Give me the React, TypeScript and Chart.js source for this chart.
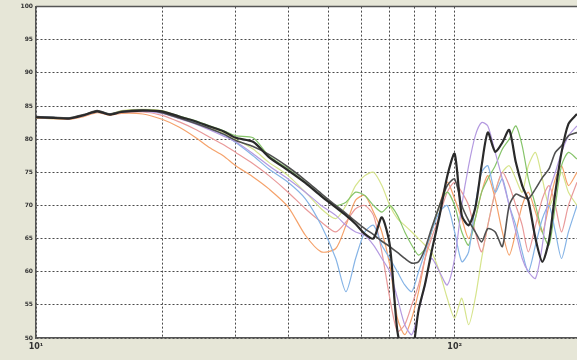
import React, { useEffect, useRef } from 'react';
import { Chart, registerables } from 'chart.js';

Chart.register(...registerables);

const freqs = [10, 11, 12, 13, 14, 15, 16, 18, 20, 22, 24, 26, 28, 30, 33, 36, 40, 44, 48, 52, 55, 58, 61, 64, 67, 70, 73, 76, 79, 82, 85, 88, 92, 96, 100, 104, 108, 112, 116, 120, 125, 130, 135, 140, 145, 150, 156, 162, 168, 174, 180, 187, 196];

const gridFreqs = [10, 20, 30, 40, 50, 60, 70, 80, 90, 100];
const xTickLabels: Record<number, string> = { 10: '10\u00b9', 100: '10\u00b2' };

const seriesBlack = [83.3, 83.2, 83.1, 83.6, 84.2, 83.7, 84.1, 84.3, 84.2, 83.4, 82.7, 81.9, 81.2, 80.2, 79.6, 77.3, 75.3, 73.4, 71.4, 69.7, 68.5, 67.2, 65.7, 65.0, 68.2, 64.0, 51.0, 47.0, 47.5, 54.2, 58.2, 62.9, 68.4, 74.4, 77.8, 68.5, 67.0, 69.6, 76.0, 81.0, 78.1, 79.5, 81.4, 76.5, 73.0, 70.7, 65.0, 61.5, 64.7, 72.0, 78.0, 82.3, 83.8];
const seriesGray = [83.4, 83.3, 83.2, 83.7, 84.3, 83.8, 84.2, 84.4, 84.0, 83.2, 82.4, 81.6, 80.8, 79.8, 78.9, 77.7, 75.8, 73.8, 71.8, 70.0, 68.8, 67.6, 66.5, 65.6, 64.6, 63.8, 62.9, 62.0, 61.3, 61.5, 63.5, 66.5, 70.0, 73.0, 74.0, 70.0, 67.7, 66.0, 64.5, 66.5, 66.0, 63.8, 70.0, 71.7, 71.3, 71.0, 72.5, 74.2, 75.5, 78.0, 79.0, 80.5, 81.0];
const seriesOrange = [83.2, 83.1, 83.0, 83.4, 84.0, 83.6, 83.9, 83.8, 83.0, 81.8, 80.3, 78.7, 77.5, 76.0, 74.3, 72.5, 69.8, 65.5, 63.0, 63.5, 67.0, 70.8, 71.5, 69.0, 66.0, 61.0, 53.0, 50.5, 53.0, 57.0, 62.0, 66.0, 70.0, 73.5, 71.0, 68.0, 65.0, 68.0, 72.0, 74.5, 71.0, 66.0, 62.5, 66.0, 70.0, 72.0, 69.0, 66.0, 70.0, 74.0, 76.0, 73.0, 75.0];
const seriesSalmon = [83.3, 83.2, 83.1, 83.5, 84.1, 83.7, 84.0, 84.1, 83.6, 82.6, 81.5, 80.3, 79.2, 78.0, 76.3, 74.5, 72.0, 69.5, 67.5, 66.0, 67.5, 69.5, 70.0, 68.5, 63.0, 56.0, 51.0, 52.0, 55.0, 58.0, 62.0, 65.0, 68.5, 72.0, 73.5, 72.0, 70.0, 66.0, 63.0, 67.0, 72.0, 75.0, 73.0, 70.0, 67.0, 63.0, 67.0, 71.0, 73.0, 70.0, 66.0, 70.0, 73.5];
const seriesBlue = [83.4, 83.3, 83.2, 83.6, 84.2, 83.8, 84.1, 84.3, 84.0, 83.2, 82.5, 81.6, 80.7, 79.5, 77.5, 75.5, 73.5, 71.0, 67.0, 62.0, 57.0, 62.0, 66.0, 67.0, 64.0, 62.0, 60.0, 58.0, 57.0, 60.0, 63.0, 66.0, 69.0, 70.0, 66.0, 61.5, 63.0, 70.0, 75.0, 76.0, 72.0, 74.0, 70.0, 67.0, 63.0, 60.0, 64.0, 68.0, 70.0, 66.0, 62.0, 66.0, 70.0];
const seriesPurple = [83.3, 83.2, 83.1, 83.6, 84.2, 83.7, 84.1, 84.2, 83.9, 83.1, 82.3, 81.4, 80.5, 79.6, 77.8, 76.0, 74.0, 72.0, 70.0, 68.5, 67.0, 66.0, 65.5, 64.0, 62.0, 60.0, 56.0, 52.0, 50.5, 54.0, 58.0, 62.0, 60.0, 58.0, 62.0, 70.0, 76.0, 80.5, 82.5, 82.0, 78.0, 74.0, 70.0, 66.0, 62.0, 60.0, 59.0, 64.0, 72.0, 75.0, 78.0, 80.5, 82.0];
const seriesGreen = [83.3, 83.2, 83.2, 83.6, 84.2, 83.8, 84.2, 84.4, 84.2, 83.5, 82.8, 82.0, 81.3, 80.5, 80.2, 77.5, 75.5, 73.5, 71.5, 70.0, 70.5, 72.0, 71.5, 70.0, 69.0, 70.0, 68.5, 66.0, 64.0, 62.5, 63.5, 66.0, 70.0, 72.0, 70.0, 66.0, 64.0, 68.0, 72.0, 74.0, 76.0, 78.5, 80.0, 82.0, 79.0, 74.0, 70.0, 66.0, 64.0, 70.0, 76.0, 78.0, 77.0];
const seriesYellow = [83.2, 83.1, 83.1, 83.5, 84.1, 83.8, 84.3, 84.5, 84.3, 83.4, 82.6, 81.8, 81.0, 80.0, 78.5, 76.5, 74.5, 72.0, 69.5, 68.0, 70.0, 73.0, 74.5, 75.0, 73.0, 70.0, 68.0, 67.0, 66.0, 65.0, 64.0, 63.0, 60.0, 56.0, 53.0, 56.0, 52.0, 56.0, 62.0, 67.0, 72.0, 75.0, 76.0, 74.0, 72.0, 76.0, 78.0, 74.0, 70.0, 72.0, 75.0, 72.0, 70.0];

const seriesList = [
  { name: 'black', values: seriesBlack, color: '#2a2a2a', width: 2.2 },
  { name: 'gray', values: seriesGray, color: '#505050', width: 1.6 },
  { name: 'purple', values: seriesPurple, color: '#b49ae0', width: 1.2 },
  { name: 'blue', values: seriesBlue, color: '#86b4e6', width: 1.2 },
  { name: 'green', values: seriesGreen, color: '#86c46a', width: 1.2 },
  { name: 'salmon', values: seriesSalmon, color: '#e99a9a', width: 1.2 },
  { name: 'orange', values: seriesOrange, color: '#f5a26b', width: 1.2 },
  { name: 'yellow', values: seriesYellow, color: '#d6e48c', width: 1.2 },
];

const framePlugin = {
  id: 'frame',
  beforeDraw(chart: any) {
    const { ctx, chartArea: a, width, height } = chart;
    ctx.save();
    ctx.fillStyle = '#e6e6d7';
    ctx.fillRect(0, 0, width, height);
    ctx.fillStyle = '#ffffff';
    ctx.fillRect(a.left, a.top, a.right - a.left, a.bottom - a.top);
    ctx.restore();
  },
  afterDraw(chart: any) {
    const { ctx, chartArea: a } = chart;
    ctx.save();
    ctx.strokeStyle = '#555555';
    ctx.lineWidth = 1.5;
    ctx.beginPath();
    ctx.moveTo(a.left, a.top);
    ctx.lineTo(a.right, a.top);
    ctx.stroke();
    ctx.restore();
  },
};

export default function App() {
  const ref = useRef<HTMLCanvasElement | null>(null);
  useEffect(() => {
    if (!ref.current) return;
    const chart = new Chart(ref.current, {
      type: 'line',
      data: {
        datasets: seriesList.map((s) => ({
          label: s.name,
          data: freqs.map((f, i) => ({ x: f, y: s.values[i] })),
          borderColor: s.color,
          borderWidth: s.width,
          pointRadius: 0,
          tension: 0.25,
          fill: false,
        })),
      },
      options: {
        animation: false,
        responsive: false,
        devicePixelRatio: 1,
        layout: { padding: { top: 4, left: 0, right: 0, bottom: 0 } },
        plugins: { legend: { display: false }, tooltip: { enabled: false } },
        scales: {
          x: {
            type: 'logarithmic',
            min: 10,
            max: 196,
            afterBuildTicks: (s: any) => {
              s.ticks = gridFreqs.map((v) => ({ value: v }));
            },
            afterFit: (s: any) => {
              s.height = 22;
            },
            ticks: {
              autoSkip: false,
              maxRotation: 0,
              padding: 4,
              color: '#333333',
              font: { size: 8, family: 'DejaVu Sans', weight: 'bold' },
              callback: (v: any) => xTickLabels[Number(v)] ?? '',
            },
            grid: { color: '#4a4a4a', lineWidth: 1, drawTicks: false },
            border: { color: '#555555', width: 1.5, dash: [2, 2] },
          },
          y: {
            min: 50,
            max: 100,
            afterFit: (s: any) => {
              s.width = 36;
            },
            ticks: {
              stepSize: 5,
              padding: 3,
              color: '#333333',
              font: { size: 6, family: 'DejaVu Sans', weight: 'bold' },
            },
            grid: { color: '#4a4a4a', lineWidth: 1, drawTicks: false },
            border: { color: '#555555', width: 1.5, dash: [2, 2] },
          },
        },
      },
      plugins: [framePlugin],
    });
    return () => chart.destroy();
  }, []);
  return (
    <div style={{ position: 'absolute', left: 0, top: 0, width: 577, height: 360 }}>
      <canvas ref={ref} width={577} height={360} />
    </div>
  );
}
